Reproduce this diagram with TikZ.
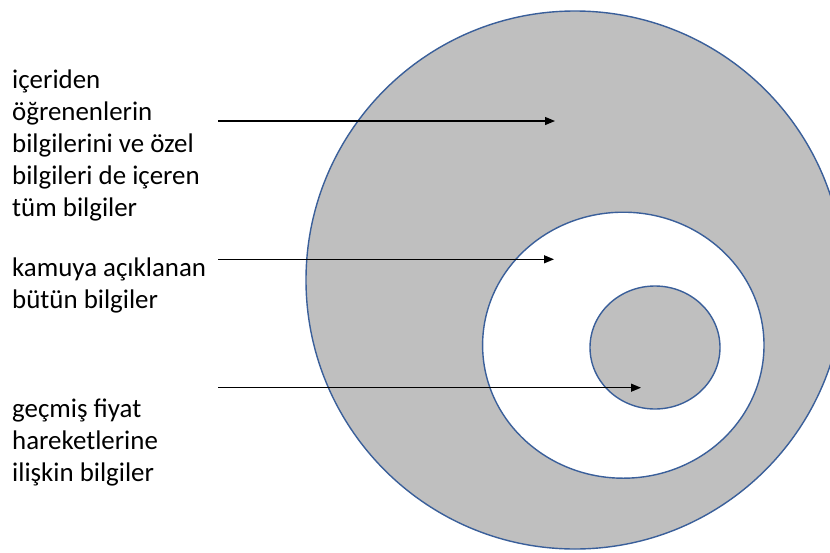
\documentclass[tikz,border=0pt]{standalone}
\usepackage{fontspec}
\setmainfont{Carlito}
\usetikzlibrary{arrows.meta}
\definecolor{ringgray}{HTML}{BFBFBF}
\definecolor{ringblue}{HTML}{3A5F9A}
\tikzset{
  ring/.style={draw=ringblue, line width=1.4pt},
  lbl/.style={anchor=base west, inner sep=0pt, align=left,
    font=\fontsize{26.9}{32}\selectfont},
  pointer/.style={draw=black, line width=1.2pt, -{Triangle[length=10pt,width=8pt]}}
}
\begin{document}
\begin{tikzpicture}[x=1pt,y=-1pt]
\clip (0,0) rectangle (830,552);
\fill[white] (0,0) rectangle (830,552);
\draw[ring, fill=ringgray] (575,280) circle [radius=269];
\draw[ring, fill=white] (623.3,345.2) ellipse [x radius=140.7, y radius=133];
\draw[ring, fill=ringgray] (655,347.5) ellipse [x radius=65, y radius=61.5];

\node[lbl] (t1) at (12,216.5) {içeriden\\öğrenenlerin\\bilgilerini ve özel\\bilgileri de içeren\\tüm bilgiler};
\node[lbl] (t2) at (12,308) {kamuya açıklanan\\bütün bilgiler};
\node[lbl] (t3) at (12,481) {geçmiş fiyat\\hareketlerine\\ilişkin bilgiler};

\coordinate (s1) at (218,121);
\coordinate (e1) at (555,121);
\coordinate (s2) at (218,259.3);
\coordinate (e2) at (554,259.3);
\coordinate (s3) at (218,387.7);
\coordinate (e3) at (641,387.7);
\draw[pointer] (s1) -- (e1);
\draw[pointer] (s2) -- (e2);
\draw[pointer] (s3) -- (e3);
\end{tikzpicture}
\end{document}
